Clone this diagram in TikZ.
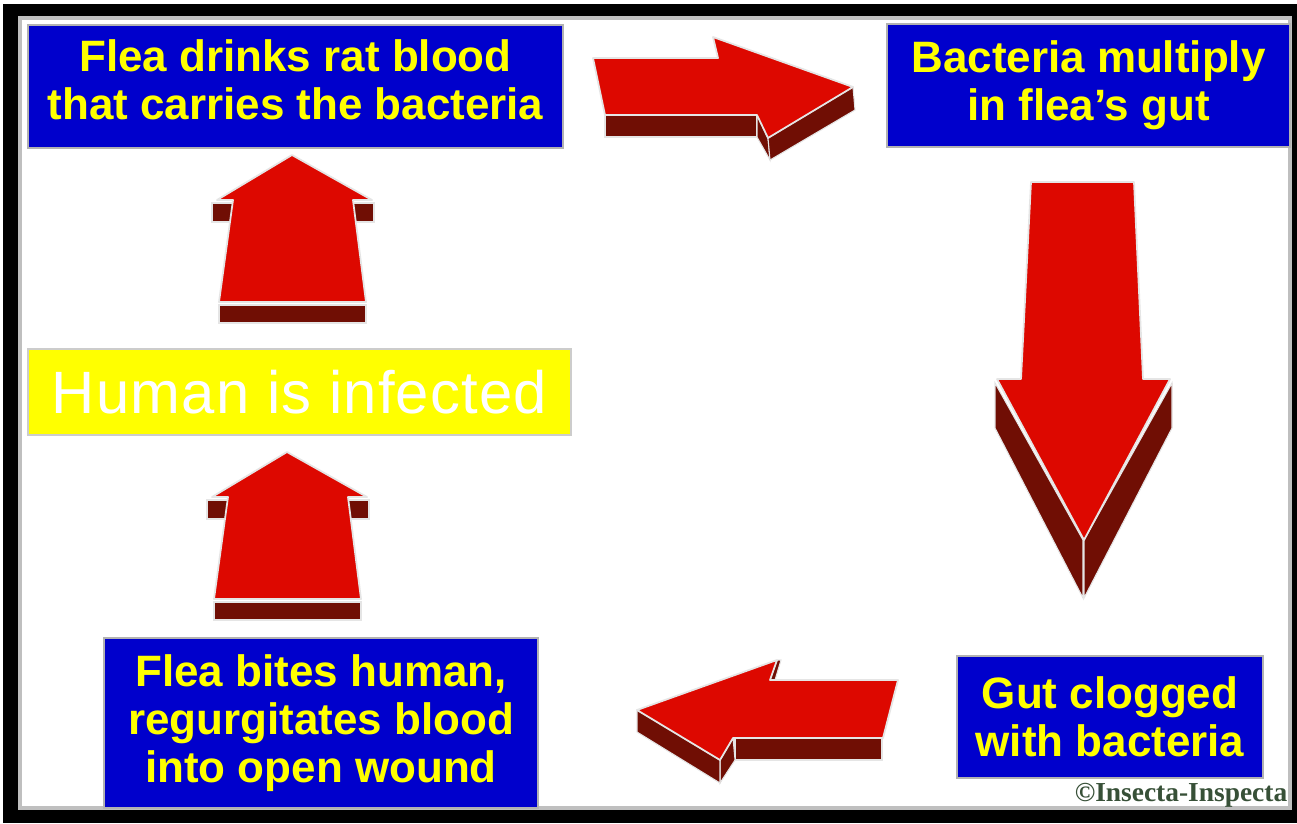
\documentclass[tikz,border=0pt]{standalone}
\usepackage{fontspec}
\setmainfont{Liberation Sans}
\newfontfamily\copyfont{Liberation Serif}

\definecolor{boxblue}{RGB}{0,0,204}
\definecolor{txtyellow}{RGB}{255,255,0}
\definecolor{infyellow}{RGB}{255,255,0}
\definecolor{arrred}{RGB}{221,8,0}
\definecolor{arrside}{RGB}{112,14,4}
\definecolor{copygreen}{RGB}{55,80,55}

\tikzset{
  stagebox/.style={fill=boxblue, draw=gray!60, line width=0.4pt, text=txtyellow,
    font=\bfseries\fontsize{12.5}{13.6}\selectfont, align=center, inner sep=0pt},
  stagetext/.style={text=txtyellow, font=\bfseries\fontsize{12.5}{13.6}\selectfont,
    align=center, inner sep=0pt},
  infbox/.style={fill=infyellow, draw=gray!40, line width=0.4pt, text=white,
    font=\addfontfeature{LetterSpace=2}\fontsize{17}{20}\selectfont, inner sep=0pt},
  face/.style={fill=arrred, draw=white!80!gray, line width=0.5pt, line join=round},
  side/.style={fill=arrside, draw=white!80!gray, line width=0.3pt},
}

% up arrow, drawn in pixel units
\newcommand{\UpArr}{
  \fill[side] (212,203) rectangle (233,222);
  \fill[side] (353,203) rectangle (374,222);
  \filldraw[side] (219,305) rectangle (366,323);
  \filldraw[face] (292,155) -- (372,200) -- (353,200) -- (366,302)
    -- (219,302) -- (233,200) -- (217,200) -- cycle;
}

\begin{document}
\begin{tikzpicture}[x=0.01cm, y=-0.01cm]
  \useasboundingbox (0,0) rectangle (1297,823);
  % frame
  \fill[black] (3,4) rectangle (1297,823);
  \fill[white] (19,17) rectangle (1291,809);
  \draw[gray!50, line width=1pt] (20,18) rectangle (1290,808);

  % stages
  \node[stagebox, minimum width=5.35cm, minimum height=1.23cm] (drink) at (295.5,86.5) {};
  \node[stagetext] (drinktext) at ([yshift=0.07cm]drink.center)
    {Flea drinks rat blood\\that carries the bacteria};
  \node[stagebox, minimum width=4.03cm, minimum height=1.23cm] (multiply) at (1088.5,85.5)
    {Bacteria multiply\\in flea's gut};
  \node[stagebox, minimum width=3.06cm, minimum height=1.22cm] (clog) at (1110,717)
    {Gut clogged\\with bacteria};
  \node[stagebox, minimum width=4.34cm, minimum height=1.70cm] (bite) at (321,723)
    {Flea bites human,\\regurgitates blood\\into open wound};
  \node[infbox, minimum width=5.43cm, minimum height=0.86cm] (human) at (299.5,392)
    {Human is infected};
  \node[text=copygreen, font=\copyfont\bfseries\fontsize{7.8}{9}\selectfont, inner sep=0pt]
    (copy) at (1181,795) {©Insecta-Inspecta};

  % right arrow
  \filldraw[side] (605,115) rectangle (757,137);
  \filldraw[side] (757,115) -- (768,138) -- (770,160) -- (757,137) -- cycle;
  \filldraw[side] (768,138) -- (853,87) -- (855,110) -- (770,160) -- cycle;
  \filldraw[face] (593,58) -- (718,58) -- (713,37) -- (853,87) -- (768,138)
    -- (757,115) -- (605,115) -- cycle;

  % down arrow
  \filldraw[side] (995,383) -- (1083,540) -- (1083,598) -- (995,428) -- cycle;
  \filldraw[side] (1172,383) -- (1084,540) -- (1084,598) -- (1172,428) -- cycle;
  \filldraw[face] (1031,182) -- (1134,182) -- (1143,379) -- (1170,379) -- (1084,540)
    -- (997,379) -- (1021,379) -- cycle;

  % left arrow
  \filldraw[side] (735,738) rectangle (882,760);
  \filldraw[side] (720,760) -- (733,738) -- (735,760) -- (720,783) -- cycle;
  \filldraw[side] (637,710) -- (720,760) -- (720,783) -- (637,732) -- cycle;
  \filldraw[side] (770,680) -- (777,660) -- (781,660) -- (775,680) -- cycle;
  \filldraw[face] (898,680) -- (770,680) -- (777,660) -- (637,710) -- (720,760)
    -- (733,738) -- (883,738) -- cycle;

  % up arrows
  \UpArr
  \begin{scope}[shift={(-5,297)}]
    \UpArr
  \end{scope}
\end{tikzpicture}
\end{document}
